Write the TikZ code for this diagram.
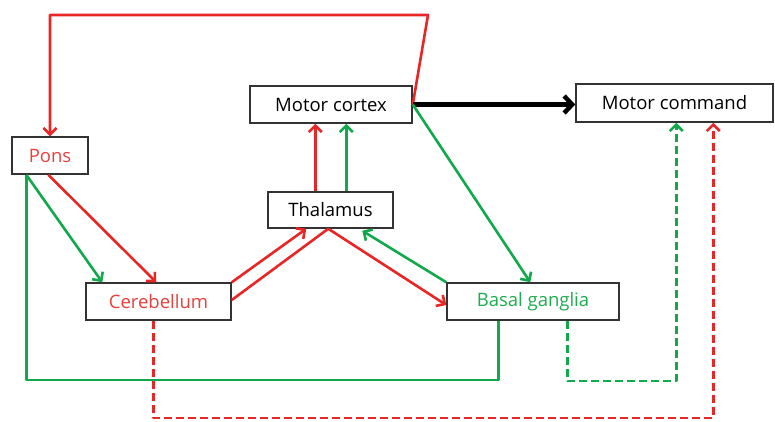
\documentclass[tikz,border=0pt]{standalone}
\usepackage{fontspec}
\setmainfont{Open Sans}
\usetikzlibrary{arrows.meta,calc}
\definecolor{cred}{RGB}{232,38,38}
\definecolor{cgreen}{RGB}{18,168,76}
\definecolor{tred}{RGB}{232,64,62}
\definecolor{tgreen}{RGB}{30,172,80}
\tikzset{
  box/.style={draw=black!80, line width=1.5pt, rectangle, inner sep=0pt, font=\fontsize{18.5}{20}\selectfont},
  tip/.style={-{Straight Barb[length=6.5pt,width=13pt,line width=2.6pt]}},
  rl/.style={draw=cred, line width=2.6pt},
  gl/.style={draw=cgreen, line width=2.6pt},
  dsh/.style={dash pattern=on 8pt off 4pt},
}
\begin{document}
\begin{tikzpicture}[x=1pt,y=-1pt]
\useasboundingbox[fill=white] (0,0) rectangle (775,421);
\node[box, minimum width=162pt, minimum height=37pt] (mc) at (331,104.5) {Motor cortex};
\node[box, minimum width=76pt, minimum height=37pt, text=tred] (pons) at (50,155.5) {Pons};
\node[box, minimum width=197pt, minimum height=38pt] (cmd) at (674.5,103) {Motor command};
\node[box, minimum width=125pt, minimum height=36pt] (thal) at (330.5,210) {Thalamus};
\node[box, minimum width=145pt, minimum height=37pt, text=tred] (cb) at (158.5,301.5) {Cerebellum};
\node[box, minimum width=172pt, minimum height=37pt, text=tgreen] (bg) at (533,301.5) {Basal ganglia};

% red loop motor cortex -> pons
\draw[rl, tip, line join=round] (mc.east) -- (428,15) -- (pons.north |- 0,15) -- (pons.north);
% black command
\draw[line width=4.5pt, -{Straight Barb[length=8pt,width=17pt,line width=4.5pt]}] (mc.east) -- (cmd.west |- mc.east);
% green motor cortex -> basal ganglia
\draw[gl, tip] (mc.east) -- ([xshift=84pt]bg.north west);
% thalamus -> motor cortex
\draw[rl, tip] ([xshift=48pt]thal.north west) -- ([xshift=48pt]thal.north west |- mc.south);
\draw[gl, tip] ([xshift=79pt]thal.north west) -- ([xshift=79pt]thal.north west |- mc.south);
% pons -> cerebellum
\draw[gl, tip] ([xshift=15pt]pons.south west) -- ([xshift=17pt]cb.north west);
\draw[rl, tip] ([xshift=37pt]pons.south west) -- ([xshift=71pt]cb.north west);
% green loop pons -> basal ganglia
\draw[gl, line join=round] ([xshift=15pt]pons.south west) -- ([xshift=15pt]pons.south west |- 0,380) -- ([xshift=52pt]bg.south west |- 0,380) -- ([xshift=52pt]bg.south west);
% cerebellum <-> thalamus
\draw[rl, tip] (cb.north east) -- ([xshift=39pt]thal.south west);
\draw[rl] ([yshift=1.5pt]cb.east) -- ([xshift=61pt]thal.south west);
\draw[rl, tip] ([xshift=61pt]thal.south west) -- ([yshift=-3.5pt]bg.west);
\draw[gl, tip] (bg.north west) -- ([xshift=95pt,yshift=-2pt]thal.south west);
% dashed to motor command
\draw[gl, dsh, tip, line join=round] ([xshift=121pt]bg.south west) -- ([xshift=121pt]bg.south west |- 0,381) -- ([xshift=101pt]cmd.south west |- 0,381) -- ([xshift=101pt]cmd.south west);
\draw[rl, dsh, tip, line join=round] ([xshift=68pt]cb.south west) -- ([xshift=68pt]cb.south west |- 0,418) -- ([xshift=138pt]cmd.south west |- 0,418) -- ([xshift=138pt]cmd.south west);
\end{tikzpicture}
\end{document}
